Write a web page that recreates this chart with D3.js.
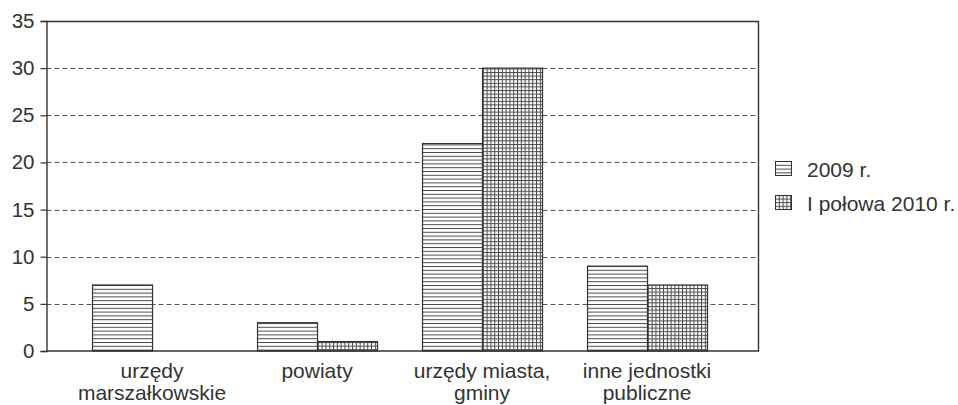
<!DOCTYPE html>
<html>
<head>
<meta charset="utf-8">
<script src="https://cdn.jsdelivr.net/npm/d3@7"></script>
<style>
  html, body { margin: 0; padding: 0; background: #fff; }
  svg { display: block; font-family: "Liberation Sans", Arial, sans-serif; }
</style>
</head>
<body>
<svg id="chart" width="958" height="405"></svg>
<script>
// Category labels (each entry is drawn as one or two lines)
const categories = [
  ["urzędy", "marszałkowskie"],
  ["powiaty"],
  ["urzędy miasta,", "gminy"],
  ["inne jednostki", "publiczne"]
];
const categoryKeys = ["marszalkowskie", "powiaty", "miasta_gminy", "inne"];
const seriesNames = ["2009 r.", "I połowa 2010 r."];
const values2009 = [7, 3, 22, 9];
const values2010 = [0, 1, 30, 7];
const yTicks = [0, 5, 10, 15, 20, 25, 30, 35];

const svg = d3.select("#chart");
const plot = { left: 46.5, right: 759, top: 21, bottom: 351 };
const ink = "#333";

// Hatch patterns: horizontal lines for 2009, grid for 2010
const defs = svg.append("defs");
const hatch = defs.append("pattern")
  .attr("id", "hatchH").attr("patternUnits", "userSpaceOnUse")
  .attr("width", 8).attr("height", 3.8);
hatch.append("rect").attr("width", 8).attr("height", 3.8).attr("fill", "#fff");
hatch.append("line").attr("x1", 0).attr("x2", 8).attr("y1", 0.5).attr("y2", 0.5)
  .attr("stroke", "#4a4a4a").attr("stroke-width", 1);

const grid = defs.append("pattern")
  .attr("id", "hatchG").attr("patternUnits", "userSpaceOnUse")
  .attr("width", 3.8).attr("height", 3.6);
grid.append("rect").attr("width", 3.8).attr("height", 3.6).attr("fill", "#fff");
grid.append("line").attr("x1", 0).attr("x2", 3.8).attr("y1", 0.5).attr("y2", 0.5)
  .attr("stroke", "#4a4a4a").attr("stroke-width", 1);
grid.append("line").attr("x1", 0.5).attr("x2", 0.5).attr("y1", 0).attr("y2", 3.6)
  .attr("stroke", "#4a4a4a").attr("stroke-width", 1);

const fills = ["url(#hatchH)", "url(#hatchG)"];

// Scales
const y = d3.scaleLinear().domain([0, 35]).range([plot.bottom, plot.top]);
const x0 = d3.scaleBand().domain(categoryKeys).range([plot.left, plot.right])
  .paddingInner(0.2727).paddingOuter(0.2954).align(0.467);
const x1 = d3.scaleBand().domain([0, 1]).range([0, x0.bandwidth()]).padding(0);

// Dashed gridlines
svg.append("g").selectAll("line")
  .data(yTicks.filter(t => t > 0 && t < 35))
  .join("line")
  .attr("x1", plot.left).attr("x2", plot.right)
  .attr("y1", d => Math.round(y(d)) + 0.5).attr("y2", d => Math.round(y(d)) + 0.5)
  .attr("stroke", "#555").attr("stroke-width", 1).attr("stroke-dasharray", "5,3");

// Frame: top and right edges
svg.append("path")
  .attr("d", `M${plot.left},${plot.top + 0.5}H${plot.right - 0.5}V${plot.bottom}`)
  .attr("fill", "none").attr("stroke", ink).attr("stroke-width", 1.4);

// Bars
const rows = categoryKeys.map((k, i) => ({ key: k, vals: [values2009[i], values2010[i]] }));
const groups = svg.append("g").selectAll("g")
  .data(rows).join("g")
  .attr("transform", d => `translate(${x0(d.key)},0)`);
groups.selectAll("rect")
  .data(d => d.vals.map((v, s) => ({ v, s })).filter(e => e.v > 0))
  .join("rect")
  .attr("x", d => x1(d.s) + 0.5)
  .attr("y", d => y(d.v))
  .attr("width", x1.bandwidth())
  .attr("height", d => y(0) - y(d.v))
  .attr("fill", d => fills[d.s])
  .attr("stroke", ink).attr("stroke-width", 1.2);

// Y axis
const yAxis = d3.axisLeft(y).tickValues(yTicks).tickSize(6).tickPadding(6);
const gy = svg.append("g").attr("transform", `translate(${plot.left},0)`).call(yAxis);
gy.select(".domain").attr("stroke", ink).attr("stroke-width", 1.4);
gy.selectAll(".tick line").attr("stroke", ink).attr("stroke-width", 1.2);
gy.selectAll(".tick text").attr("fill", ink).attr("font-size", 20.5)
  .attr("font-family", "'Liberation Sans', Arial, sans-serif");

// Baseline
svg.append("line")
  .attr("x1", plot.left).attr("x2", plot.right)
  .attr("y1", plot.bottom).attr("y2", plot.bottom)
  .attr("stroke", ink).attr("stroke-width", 1.4);

// Category labels
const labels = svg.append("g").selectAll("text")
  .data(categoryKeys).join("text")
  .attr("x", d => x0(d) + x0.bandwidth() / 2)
  .attr("y", 378)
  .attr("text-anchor", "middle")
  .attr("font-size", 21).attr("fill", ink);
labels.selectAll("tspan")
  .data((d, i) => categories[i])
  .join("tspan")
  .attr("x", function () { return d3.select(this.parentNode).attr("x"); })
  .attr("dy", (d, i) => i === 0 ? 0 : 21.5)
  .text(d => d);

// Legend
const legend = svg.append("g").selectAll("g")
  .data(seriesNames).join("g")
  .attr("transform", (d, i) => `translate(775,${161 + i * 34})`);
legend.append("rect")
  .attr("x", 0.5).attr("y", 0.5).attr("width", 16).attr("height", 14)
  .attr("fill", (d, i) => fills[i]).attr("stroke", ink).attr("stroke-width", 1);
legend.append("text")
  .attr("x", 32).attr("y", 8.5).attr("dy", "0.36em")
  .attr("font-size", 21).attr("fill", ink)
  .text(d => d);
</script>
</body>
</html>
